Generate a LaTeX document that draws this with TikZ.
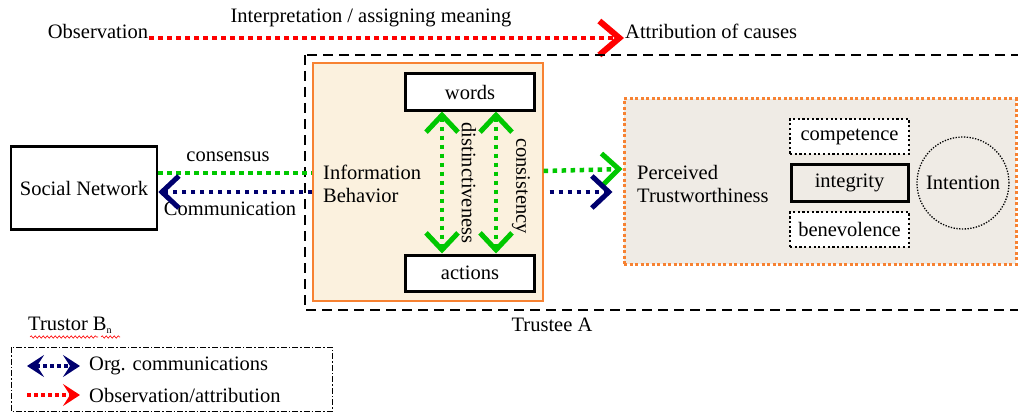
\documentclass[tikz,border=0pt]{standalone}
\usepackage{fontspec}
\setmainfont{Liberation Serif}
\usetikzlibrary{arrows.meta,decorations.pathmorphing}
\definecolor{gr}{RGB}{0,200,0}
\definecolor{nv}{RGB}{0,0,110}
\definecolor{rd}{RGB}{255,0,0}
\definecolor{org}{RGB}{247,130,50}
\definecolor{ibfill}{RGB}{251,241,222}
\definecolor{ptfill}{RGB}{239,235,229}
\tikzset{
  txt/.style={font=\fontsize{20.5}{23}\selectfont, inner sep=1pt},
  fat/.style={line width=4.5pt, dash pattern=on 4.5pt off 4.5pt},
  tipa/.tip={Straight Barb[length=17pt,width=32pt,line width=5pt]},
  barb/.style={-tipa},
  bbarb/.style={tipa-tipa},
  solidbox/.style={draw, line width=3pt, fill=white, txt, minimum width=129pt, minimum height=36pt},
  dotbox/.style={draw, line width=2.2pt, dash pattern=on 2.2pt off 2.5pt, fill=white, txt, minimum width=119pt, minimum height=35pt}
}
\begin{document}
\begin{tikzpicture}[x=1pt,y=-1pt]
\path[use as bounding box] (0,0) rectangle (1018,412);
\clip (0,0) rectangle (1018,412);
% top red arrow
\node[txt] (obs) at (98,31) {Observation};
\node[txt] (interp) at (371,18) {Interpretation / assigning meaning};
\node[txt, anchor=west] (attr) at (624,31) {Attribution of causes};
\draw[rd, fat, -{Straight Barb[length=20pt,width=34pt,line width=6pt]}] (obs.east |- 0,38) -- (attr.west |- 0,38);
% trustee dashed box
\draw[line width=1.5pt, dash pattern=on 10pt off 6pt] (305,55) rectangle (1040,310);
\node[txt] (trustee) at (552,325) {Trustee A};
% information behavior box
\node[draw=org, line width=1.3pt, fill=ibfill, minimum width=230pt, minimum height=238pt] (ib) at (428,182) {};
\node[txt, anchor=west, align=left] (ibt) at (322,184) {Information\\Behavior};
\node[solidbox] (words) at (470,92) {words};
\node[solidbox] (actions) at (470,273) {actions};
\draw[gr, fat, bbarb] ([xshift=-28pt]words.south) -- ([xshift=-28pt]actions.north);
\draw[gr, fat, bbarb] ([xshift=26pt]words.south) -- ([xshift=26pt]actions.north);
\node[txt, rotate=-90] (dist) at (469,183) {distinctiveness};
\node[txt, rotate=-90] (cons) at (521,186) {consistency};
% social network
\node[draw, line width=2.5pt, fill=white, txt, minimum width=146pt, minimum height=83pt] (sn) at (84,188) {Social Network};
\node[txt] (consensus) at (228,157) {consensus};
\node[txt] (comm) at (230,209) {Communication};
% perceived trustworthiness box
\node[draw=org, line width=3pt, dash pattern=on 3pt off 2.5pt, fill=ptfill, minimum width=392pt, minimum height=165pt] (pt) at (820,181.5) {};
\node[txt, anchor=west, align=left] (ptt) at (636,184) {Perceived\\Trustworthiness};
\node[dotbox] (comp) at (849.5,136.5) {competence};
\node[draw, line width=3pt, fill=ptfill, txt, minimum width=117pt, minimum height=37pt] (integ) at (849.5,182.5) {integrity};
\node[dotbox] (bene) at (849.5,229.5) {benevolence};
\node[draw, circle, line width=1.3pt, dash pattern=on 1.3pt off 1.5pt, minimum size=92pt, inner sep=0pt, font=\fontsize{20.5}{23}\selectfont] (intent) at (963,183) {Intention};
% connectors
\draw[gr, fat] (sn.east |- 0,173) -- (ib.west |- 0,173);
\draw[gr, fat, barb] (ib.east |- 0,171) -- (pt.west |- 0,169);
\draw[nv, fat, barb] (ib.west |- 0,192) -- (sn.east |- 0,192);
\draw[nv, fat, barb] ([xshift=6pt]ib.east |- 0,192) -- ([xshift=-10pt]pt.west |- 0,192);
% trustor
\node[txt, anchor=west] (trustor) at (27,325) {Trustor B\textsubscript{\fontsize{10}{12}\selectfont n}};
\draw[rd, line width=0.6pt, decorate, decoration={snake, amplitude=1.2pt, segment length=4pt}] (30,337) -- (98,337);
\draw[rd, line width=0.6pt, decorate, decoration={snake, amplitude=1.2pt, segment length=4pt}] (101,337) -- (120,337);
% legend
\draw[line width=1pt, dash pattern=on 6pt off 2pt on 1.5pt off 2pt] (11,347) rectangle (332,411);
\coordinate (l1a) at (27,366);
\coordinate (l1b) at (80,366);
\coordinate (l2a) at (27,395);
\coordinate (l2b) at (80,395);
\draw[nv, line width=3.5pt, dash pattern=on 3.5pt off 3.5pt, {Stealth[length=17pt,width=22pt,inset=7pt]}-{Stealth[length=17pt,width=22pt,inset=7pt]}] (l1a) -- (l1b);
\draw[rd, line width=3.5pt, dash pattern=on 3.5pt off 3.5pt, -{Stealth[length=17pt,width=22pt,inset=7pt]}] (l2a) -- (l2b);
\node[txt, anchor=west] (lt1) at (88,366) {Org. communications};
\node[txt, anchor=west] (lt2) at (88,395) {Observation/attribution};
\end{tikzpicture}
\end{document}
